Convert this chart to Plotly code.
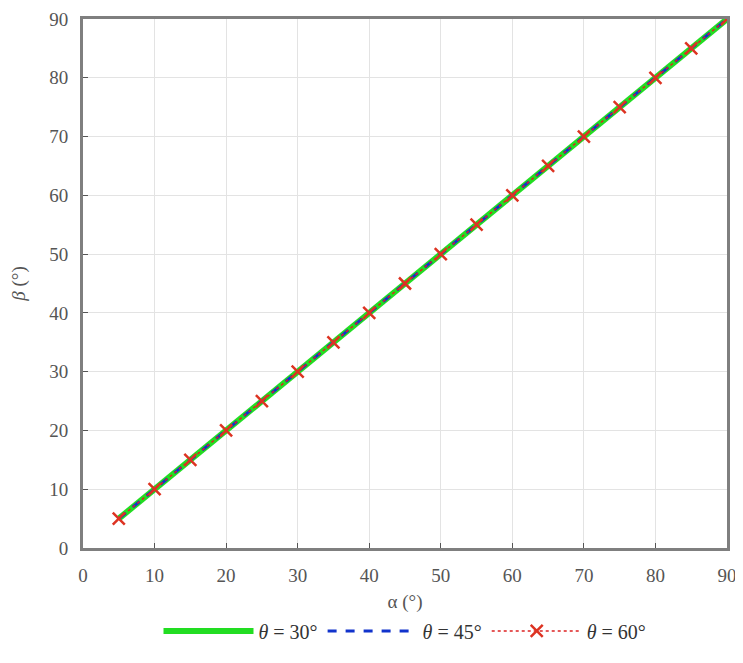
import plotly.graph_objects as go

alpha = [5, 10, 15, 20, 25, 30, 35, 40, 45, 50, 55, 60, 65, 70, 75, 80, 85, 90]
beta_30 = [5, 10, 15, 20, 25, 30, 35, 40, 45, 50, 55, 60, 65, 70, 75, 80, 85, 90]
beta_45 = [5, 10, 15, 20, 25, 30, 35, 40, 45, 50, 55, 60, 65, 70, 75, 80, 85, 90]
beta_60 = [5, 10, 15, 20, 25, 30, 35, 40, 45, 50, 55, 60, 65, 70, 75, 80, 85, 90]
ticks = [0, 10, 20, 30, 40, 50, 60, 70, 80, 90]

font = "Liberation Serif, Times New Roman, serif"
fig = go.Figure()
fig.add_trace(go.Scatter(x=alpha, y=beta_30, mode="lines",
                         line=dict(color="#22dd22", width=6),
                         name="<i>θ</i> = 30°"))
fig.add_trace(go.Scatter(x=alpha, y=beta_45, mode="lines",
                         line=dict(color="#1133cc", width=3, dash="dash"),
                         name="<i>θ</i> = 45°"))
fig.add_trace(go.Scatter(x=alpha, y=beta_60, mode="lines+markers",
                         line=dict(color="#dd2222", width=1.5, dash="dot"),
                         marker=dict(symbol="x-thin", size=12, color="#dd3322",
                                     line=dict(width=2.5, color="#dd3322")),
                         name="<i>θ</i> = 60°"))

axis_common = dict(range=[0, 90], tickvals=ticks, showgrid=True,
                   gridcolor="#e3e3e3", gridwidth=1,
                   showline=True, linecolor="#7f7f7f", linewidth=3, mirror=True,
                   ticks="inside", ticklen=5, tickcolor="#555555",
                   tickfont=dict(family=font, size=19, color="#555555"),
                   zeroline=False, automargin=False)

fig.update_layout(
    width=735, height=655,
    paper_bgcolor="white", plot_bgcolor="white",
    margin=dict(l=75, r=16, t=11, b=115),
    xaxis=dict(**axis_common, ticklabelstandoff=8,
               title=dict(text="α (°)", font=dict(family=font, size=19, color="#555555"), standoff=10)),
    yaxis=dict(**axis_common, ticklabelstandoff=8,
               title=dict(text="<i>β</i> (°)", font=dict(family=font, size=19, color="#555555"), standoff=22)),
    legend=dict(orientation="h", x=0.5, xanchor="center", y=-0.12, yanchor="top",
                font=dict(family=font, size=20, color="#333333"),
                itemwidth=90, tracegroupgap=0),
    showlegend=True,
)

fig.write_html("out.html")
